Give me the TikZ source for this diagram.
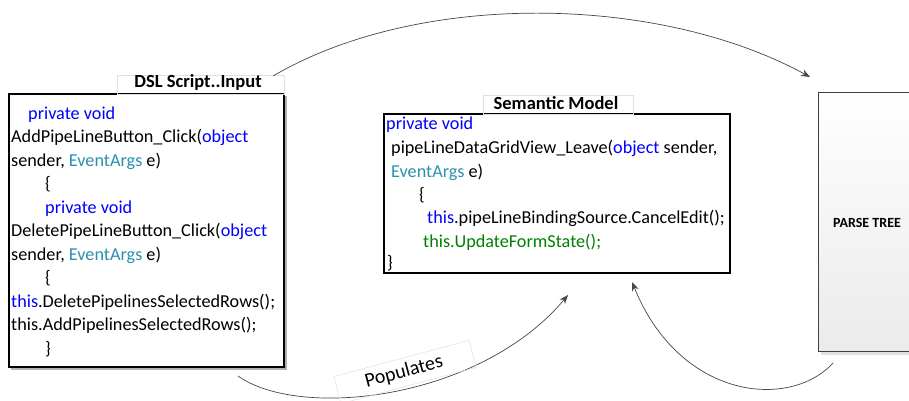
\documentclass[tikz,border=0pt]{standalone}
\usepackage{fontspec}
\setmainfont{Carlito}
\usetikzlibrary{arrows.meta}
\definecolor{kw}{RGB}{0,0,255}
\definecolor{ty}{RGB}{43,145,175}
\definecolor{gr}{RGB}{0,128,0}
\definecolor{arc}{RGB}{70,70,70}
\begin{document}
\begin{tikzpicture}[x=1pt,y=-1pt,
  code/.style={anchor=base west, inner sep=0pt, font=\fontsize{18.2}{20}\selectfont},
  codebox/.style={draw=black, line width=1.4pt, inner sep=0pt, outer sep=0pt, anchor=north west},
  lblbox/.style={draw=black!12, line width=0.5pt, inner sep=0pt, outer sep=0pt, anchor=north west},
  lbl/.style={inner sep=0pt, font=\fontsize{18.5}{20}\selectfont\bfseries},
  conn/.style={draw=arc, line width=0.7pt, -{Stealth[length=9pt,width=7pt]}}]
\clip (0,0) rectangle (909,401);
\fill[white] (0,0) rectangle (909,401);
% DSL box
\fill[black!30] (11,96) rectangle (286.5,369.5);
\node[codebox, fill=white, minimum width=275, minimum height=273] (dsl) at (9,94) {};
\node[lblbox, minimum width=167, minimum height=19] (dsllblbox) at (117,75) {};
\node[lbl] (dsllbl) at (198,82) {DSL Script..Input};
\node[code] (d1) at (28,119) {\color{kw}private void};
\node[code] (d2) at (11,142.5) {AddPipeLineButton\_Click(\textcolor{kw}{object}};
\node[code] (d3) at (11,166) {sender, \textcolor{ty}{EventArgs} e)};
\node[code] (d4) at (45,189.5) {\{};
\node[code] (d5) at (45,213) {\color{kw}private void};
\node[code] (d6) at (11,236.5) {DeletePipeLineButton\_Click(\textcolor{kw}{object}};
\node[code] (d7) at (11,260) {sender, \textcolor{ty}{EventArgs} e)};
\node[code] (d8) at (45,283.5) {\{};
\node[code] (d9) at (11,307) {\textcolor{kw}{this}.DeletePipelinesSelectedRows();};
\node[code] (d10) at (11,330.5) {this.AddPipelinesSelectedRows();};
\node[code] (d11) at (45,354) {\}};
% Semantic model box
\node[codebox, minimum width=346, minimum height=159] (sem) at (384,114) {};
\node[lblbox, minimum width=150, minimum height=19] (semlblbox) at (483,95) {};
\node[lbl] (semlbl) at (556,103) {Semantic Model};
\node[code] (s1) at (386,129) {\color{kw}private void};
\node[code] (s2) at (391,153) {pipeLineDataGridView\_Leave(\textcolor{kw}{object} sender,};
\node[code] (s3) at (391,177) {\textcolor{ty}{EventArgs} e)};
\node[code] (s4) at (419,200) {\{};
\node[code] (s5) at (427,223) {\textcolor{kw}{this}.pipeLineBindingSource.CancelEdit();};
\node[code] (s6) at (423,247) {\color{gr}this.UpdateFormState();};
\node[code] (s7) at (387,268) {\}};
% Parse tree box
\fill[black!12] (821,351) rectangle (912,355);
\node[draw=black!75, line width=0.8pt, top color=white, bottom color=black!8, inner sep=0pt, outer sep=0pt, anchor=north west, minimum width=100, minimum height=259] (pt) at (818,92) {};
\node[inner sep=0pt, font=\fontsize{14}{16}\selectfont\bfseries] (ptlbl) at (867,223) {PARSE TREE};
% connector end points
\coordinate (a1) at (273,76);
\coordinate (a2) at (810,77);
\coordinate (b1) at (238,376);
\coordinate (b2) at (568,295);
\coordinate (c1) at (833,363);
\coordinate (c2) at (632,282);
\draw[conn] (a1) .. controls (420,-10) and (660,-5) .. (a2);
\draw[conn] (b1) .. controls (300,420) and (480,400) .. (b2);
\draw[conn] (c1) .. controls (790,410) and (680,400) .. (c2);
\node[draw=black!12, line width=0.5pt, rotate=15, minimum width=140, minimum height=28, inner sep=0pt] (popbox) at (405,372) {};
\node[rotate=15, inner sep=0pt, font=\fontsize{20}{22}\selectfont] (pop) at (404,372) {Populates};
\end{tikzpicture}
\end{document}
